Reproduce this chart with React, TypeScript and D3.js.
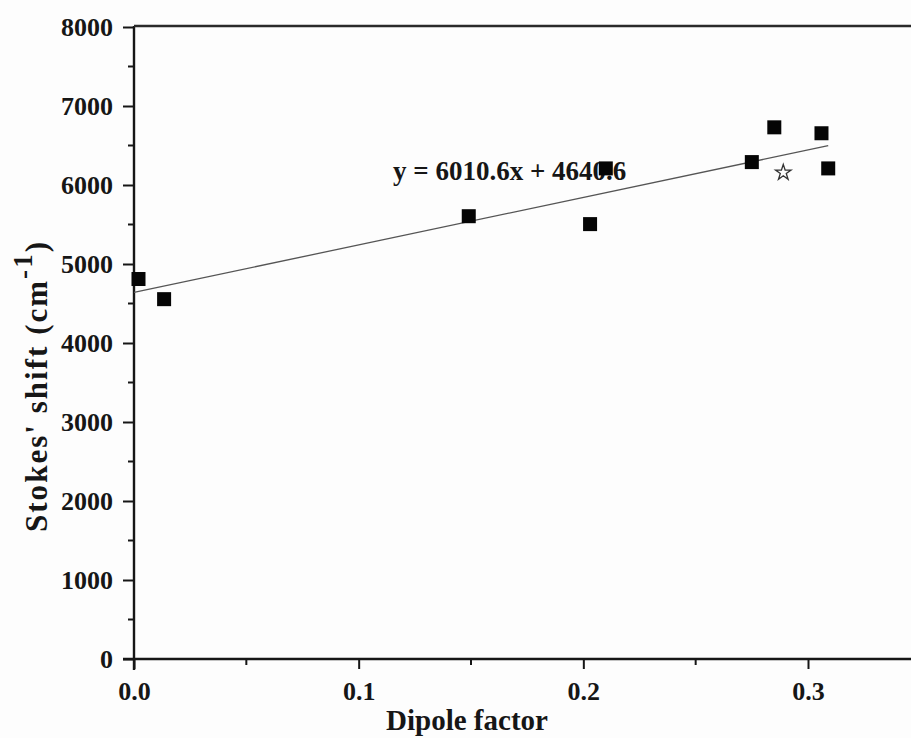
import React, { useEffect, useRef } from "react";
import * as d3 from "d3";

// dipole factor vs Stokes' shift (cm-1)
const dipoleFactor = [0.002, 0.0134, 0.149, 0.203, 0.21, 0.275, 0.285, 0.306, 0.309];
const stokesShift = [4810, 4555, 5605, 5505, 6210, 6290, 6730, 6655, 6210];
const starPoint = [0.289, 6170];

const slope = 6010.6;
const intercept = 4640.6;
const fitRange = [0, 0.309];

const yTicks = [0, 1000, 2000, 3000, 4000, 5000, 6000, 7000, 8000];
const xTicks = [0, 0.1, 0.2, 0.3];
const xMinor = [0.05, 0.15, 0.25];

const W = 911;
const H = 738;

const App = () => {
  const ref = useRef<SVGSVGElement>(null);

  useEffect(() => {
    const svg = d3.select(ref.current);
    svg.selectAll("*").remove();

    const font = "'Liberation Serif', 'Times New Roman', serif";
    const x = d3.scaleLinear().domain([0, 0.3]).range([134, 808]);
    const y = d3.scaleLinear().domain([0, 8000]).range([659, 27]);
    const left = 134;
    const bottom = 659;
    const ink = "#161616";

    svg.append("rect").attr("width", W).attr("height", H).attr("fill", "#fdfdfd");

    // axes
    const yAxis = svg
      .append("g")
      .attr("transform", `translate(${left},0)`)
      .call(
        d3
          .axisLeft(y)
          .tickValues(yTicks)
          .tickSize(11)
          .tickPadding(10)
          .tickFormat((d) => String(d))
      );
    yAxis.select(".domain").attr("stroke", ink).attr("stroke-width", 2.4).attr("d", `M0,${bottom + 11}V26`);
    yAxis.selectAll(".tick line").attr("stroke", ink).attr("stroke-width", 2);
    yAxis
      .selectAll(".tick text")
      .attr("font-family", font)
      .attr("font-weight", "bold")
      .attr("font-size", 26)
      .attr("fill", ink);

    svg
      .append("g")
      .selectAll("line")
      .data(d3.range(500, 8000, 1000))
      .join("line")
      .attr("x1", left - 6)
      .attr("x2", left)
      .attr("y1", (d) => y(d))
      .attr("y2", (d) => y(d))
      .attr("stroke", ink)
      .attr("stroke-width", 2);

    const xAxis = svg
      .append("g")
      .attr("transform", `translate(0,${bottom})`)
      .call(
        d3
          .axisBottom(x)
          .tickValues(xTicks)
          .tickSize(10)
          .tickPadding(13)
          .tickFormat(d3.format(".1f"))
      );
    xAxis.select(".domain").attr("stroke", ink).attr("stroke-width", 2.4).attr("d", `M${left - 11},0H${W}`);
    xAxis.selectAll(".tick line").attr("stroke", ink).attr("stroke-width", 2);
    xAxis
      .selectAll(".tick text")
      .attr("font-family", font)
      .attr("font-weight", "bold")
      .attr("font-size", 26)
      .attr("fill", ink);

    svg
      .append("g")
      .selectAll("line")
      .data(xMinor)
      .join("line")
      .attr("x1", (d) => x(d))
      .attr("x2", (d) => x(d))
      .attr("y1", bottom)
      .attr("y2", bottom + 6)
      .attr("stroke", ink)
      .attr("stroke-width", 2);

    // top frame line
    svg
      .append("line")
      .attr("x1", left)
      .attr("x2", W)
      .attr("y1", 26)
      .attr("y2", 26)
      .attr("stroke", "#2a2a2a")
      .attr("stroke-width", 2.6);

    // fit line
    svg
      .append("path")
      .datum(fitRange)
      .attr(
        "d",
        d3
          .line<number>()
          .x((d) => x(d))
          .y((d) => y(slope * d + intercept))
      )
      .attr("stroke", "#555")
      .attr("stroke-width", 1.3)
      .attr("fill", "none");

    // equation label
    svg
      .append("text")
      .attr("x", 393)
      .attr("y", 180)
      .attr("font-family", font)
      .attr("font-weight", "bold")
      .attr("font-size", 27)
      .attr("fill", ink)
      .text(`y = ${slope}x + ${intercept}`);

    // squares
    svg
      .append("g")
      .selectAll("rect")
      .data(dipoleFactor.map((d, i) => [d, stokesShift[i]]))
      .join("rect")
      .attr("x", (d) => x(d[0]) - 7)
      .attr("y", (d) => y(d[1]) - 7)
      .attr("width", 14)
      .attr("height", 14)
      .attr("fill", "#050505");

    // star
    svg
      .append("path")
      .attr("d", d3.symbol(d3.symbolStar, 75)())
      .attr("transform", `translate(${x(starPoint[0])},${y(starPoint[1]) + 1})`)
      .attr("fill", "none")
      .attr("stroke", "#333")
      .attr("stroke-width", 1.3);

    // axis titles
    svg
      .append("text")
      .attr("x", 467)
      .attr("y", 730)
      .attr("text-anchor", "middle")
      .attr("font-family", font)
      .attr("font-weight", "bold")
      .attr("font-size", 29)
      .attr("fill", ink)
      .text("Dipole factor");

    const yl = svg
      .append("text")
      .attr("transform", "translate(47,387) rotate(-90)")
      .attr("text-anchor", "middle")
      .attr("font-family", font)
      .attr("font-weight", "bold")
      .attr("font-size", 31)
      .attr("textLength", 290)
      .attr("lengthAdjust", "spacing")
      .attr("fill", ink);
    yl.append("tspan").text("Stokes' shift (cm");
    yl.append("tspan").attr("dy", -15).attr("font-size", 27).text("-1");
    yl.append("tspan").attr("dy", 15).text(")");
  }, []);

  return (
    <svg
      ref={ref}
      width={W}
      height={H}
      style={{ position: "absolute", left: 0, top: 0, display: "block" }}
    />
  );
};

export default App;
